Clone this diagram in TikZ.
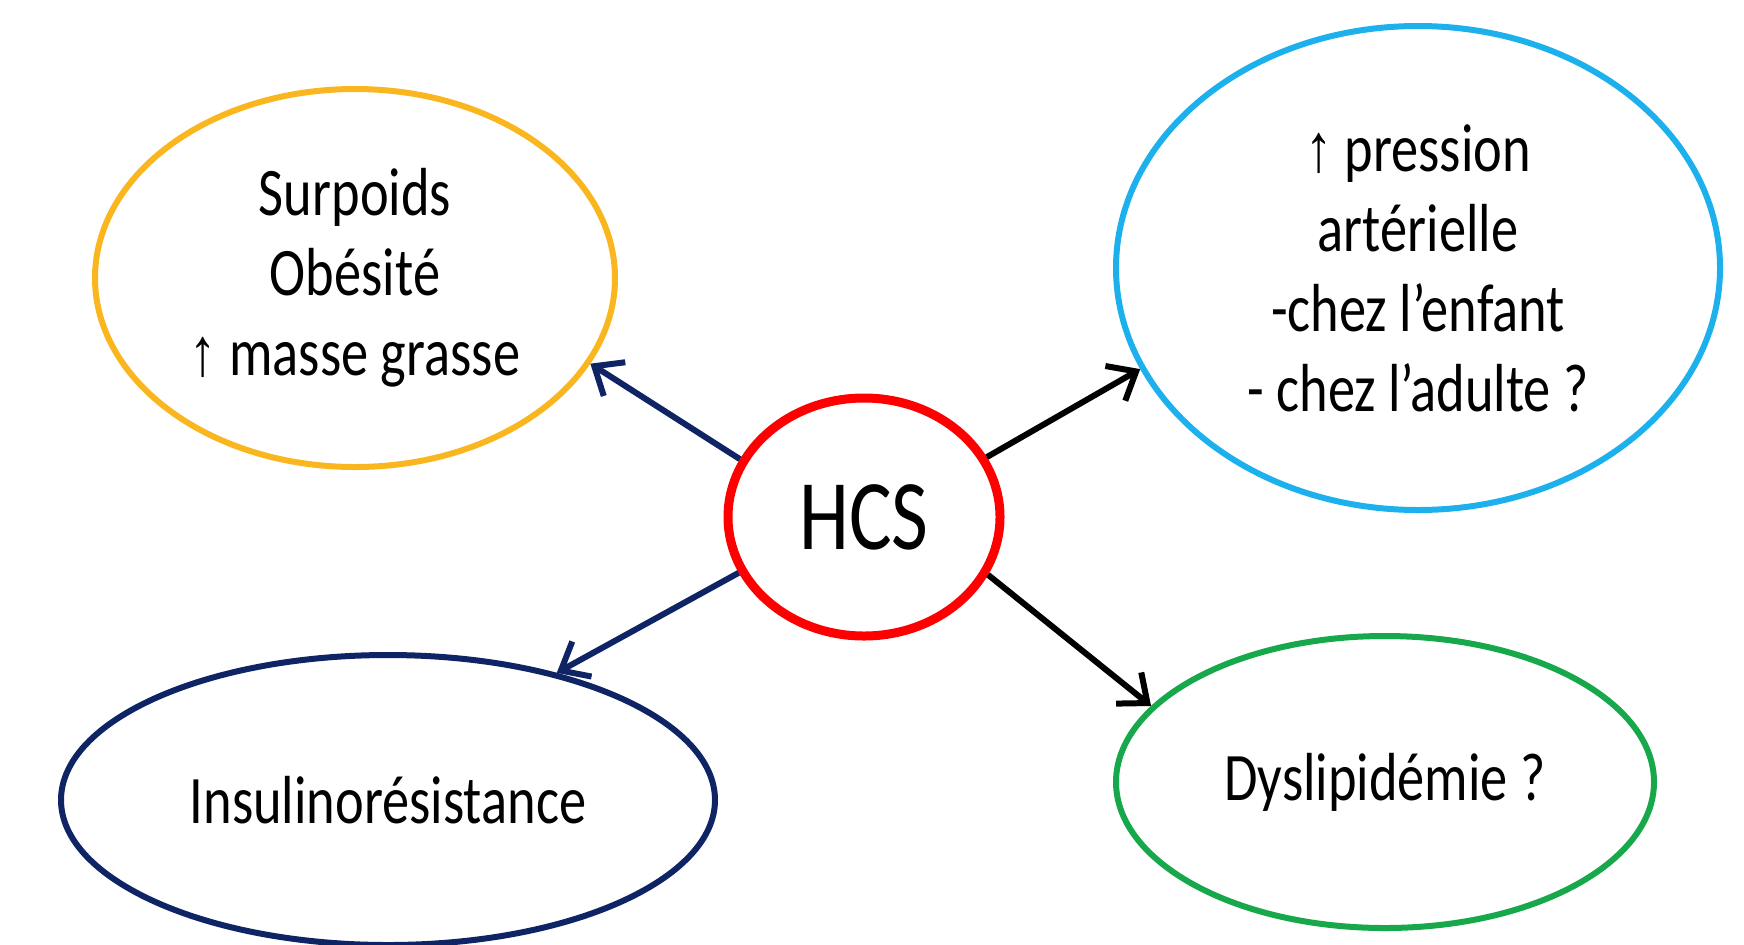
\documentclass[tikz,border=0pt]{standalone}
\usepackage{fontspec}
\setmainfont[FakeStretch=0.8]{Carlito}
\newfontfamily\arrowfont[FakeStretch=0.8]{Liberation Sans}
\usetikzlibrary{shapes.geometric,arrows.meta}
\definecolor{cOrange}{RGB}{250,182,30}
\definecolor{cBlue}{RGB}{28,176,236}
\definecolor{cNavy}{RGB}{14,36,100}
\definecolor{cGreen}{RGB}{22,168,74}
\definecolor{cRed}{RGB}{255,0,0}
\tikzset{
  bubble/.style={ellipse, draw, line width=3pt, inner sep=0pt, align=center,
    font=\fontsize{34}{40}\selectfont},
  link/.style={line width=3pt, -{Straight Barb[length=12pt,width=20pt,line width=3pt]}},
}
\newcommand{\upar}{{\arrowfont ↑}}
\begin{document}
\begin{tikzpicture}[x=0.5pt,y=-0.5pt]
\useasboundingbox (0,0) rectangle (1744,944);
\node[bubble, draw=cRed, line width=4.5pt, minimum width=136pt, minimum height=119pt,
  font=\fontsize{50}{52}\selectfont] (hcs) at (864,517) {HCS};
\node[bubble, draw=cOrange, minimum width=260pt, minimum height=189pt] (ob) at (355,278)
  {Surpoids\\Obésité\\\upar{} masse grasse};
\node[bubble, draw=cBlue, minimum width=302pt, minimum height=242pt] (pa) at (1418,268)
  {\upar{} pression\\artérielle\\-chez l’enfant\\- chez l’adulte ?};
\node[bubble, draw=cNavy, minimum width=327pt, minimum height=145pt] (ir) at (388,800)
  {Insulinorésistance};
\node[bubble, draw=cGreen, minimum width=269pt, minimum height=146pt] (dl) at (1385,782)
  {Dyslipidémie ?};
\draw[link, cNavy] (hcs.155) -- (ob.-20);
\draw[link, cNavy] (hcs.204) -- (ir.37);
\draw[link, black] (hcs.26) -- (pa.200);
\draw[link, black] (hcs.-25) -- (dl.162);
\end{tikzpicture}
\end{document}
